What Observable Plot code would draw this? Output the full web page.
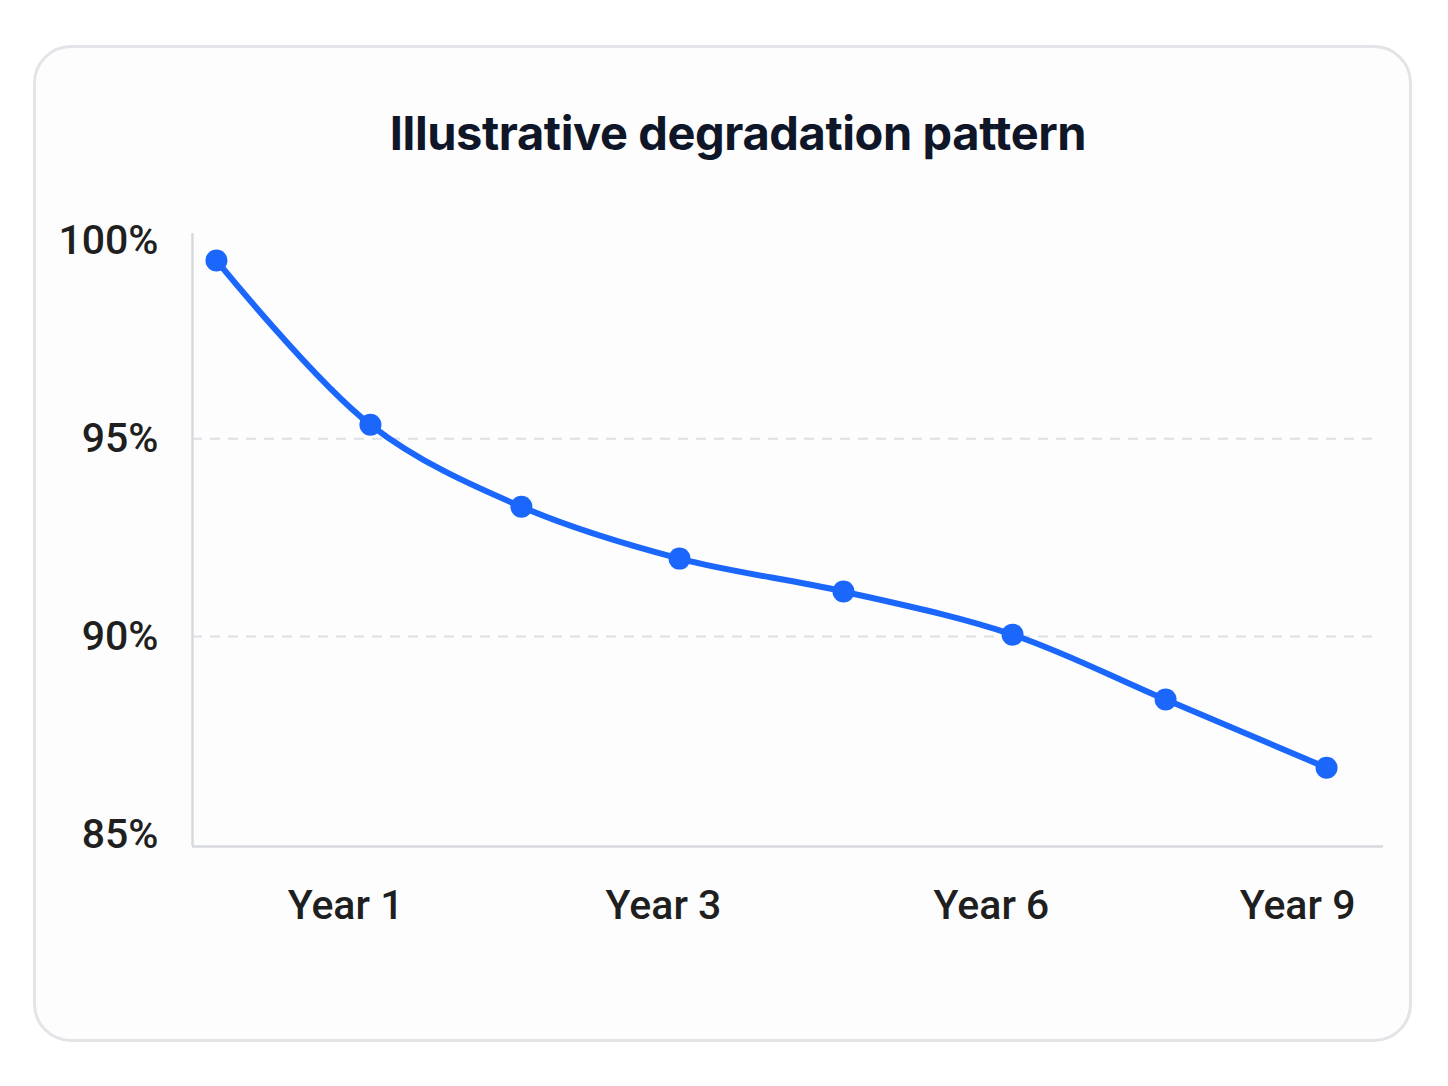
<!DOCTYPE html>
<html>
<head>
<meta charset="utf-8">
<script src="https://cdn.jsdelivr.net/npm/d3@7"></script>
<script src="https://cdn.jsdelivr.net/npm/@observablehq/plot@0.6"></script>
<style>
  html, body { margin: 0; padding: 0; background: #ffffff; width: 1448px; height: 1086px; overflow: hidden; }
  #card { position: absolute; left: 33px; top: 45px; width: 1379px; height: 997px; box-sizing: border-box;
          border: 3px solid #e2e4e8; border-radius: 38px; background: #fdfdfd; }
  #title { position: absolute; left: 14px; width: 1448px; top: 100px; text-align: center;
           font-family: "Inter", "Roboto", sans-serif; font-weight: 700; font-size: 47px; color: #0e1628;
           letter-spacing: -0.4px; line-height: 66px; margin: 0; }
  #chart { position: absolute; left: 0; top: 200px; }
</style>
</head>
<body>
<div id="card"></div>
<h2 id="title">Illustrative degradation pattern</h2>
<div id="chart"></div>
<script>
// point positions along the time axis and capacity values (%)
const pointPos = [0, 0.971, 1.923, 2.920, 3.954, 5.020, 5.985, 7];
const capacity = [99.5, 95.35, 93.28, 91.97, 91.14, 90.05, 88.41, 86.69];
// x tick labels and where they sit on the time axis
const xTickPos = [0.814, 2.819, 4.887, 6.817];
const xTickLabels = ["Year 1", "Year 3", "Year 6", "Year 9"];
// y ticks
const yTicks = [85, 90, 95, 100];
const yGrid = [90, 95];
const xDomain = [-0.151, 7.359];
const yDomain = [84.7, 100.18];

const data = pointPos.map((p, i) => ({x: p, y: capacity[i]}));
const blue = "#1b67fb";

const chart = Plot.plot({
  width: 1448,
  height: 760,
  marginLeft: 192,
  marginRight: 65,
  marginTop: 33,
  marginBottom: 114,
  style: {fontFamily: "Roboto, sans-serif", fontSize: "41px", color: "#222", background: "transparent"},
  x: {domain: xDomain, label: null},
  y: {domain: yDomain, label: null},
  marks: [
    Plot.ruleY(yGrid, {x1: xDomain[0], x2: 7.34, stroke: "#dde0e5", strokeWidth: 2, strokeDasharray: "10,8"}),
    Plot.ruleX([xDomain[0]], {y1: yDomain[0], y2: yDomain[1], stroke: "#d6d9de", strokeWidth: 2.5}),
    Plot.ruleY([yDomain[0]], {x1: xDomain[0], x2: xDomain[1], stroke: "#d6d9de", strokeWidth: 2.5}),
    Plot.axisY(yTicks, {tickSize: 0, tickPadding: 34, tickFormat: d => d + "%", fill: "#1f1f1f", fontSize: 41, fontWeight: 500, label: null}),
    Plot.axisX(xTickPos, {tickSize: 0, tickPadding: 43, tickFormat: (d, i) => xTickLabels[i], fill: "#1f1f1f", fontSize: 41, fontWeight: 500, label: null}),
    Plot.line(data, {x: "x", y: "y", curve: "catmull-rom", stroke: blue, strokeWidth: 6}),
    Plot.dot(data, {x: "x", y: "y", r: 11, fill: blue})
  ]
});
document.getElementById("chart").appendChild(chart);
</script>
</body>
</html>
